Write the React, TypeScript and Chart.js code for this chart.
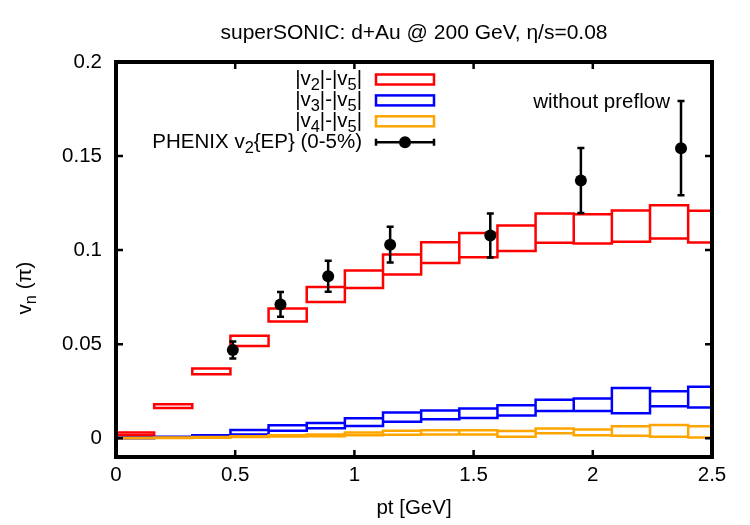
import { useEffect, useRef } from "react";
import { Chart, registerables } from "chart.js";

Chart.register(...registerables);

const FONT = '"Liberation Sans", Arial, Helvetica, sans-serif';
const FS = 20.5;

// pT bins (GeV): lower edges, all of equal width
const binLow = [0, 0.16, 0.32, 0.48, 0.64, 0.8, 0.96, 1.12, 1.28, 1.44, 1.6, 1.76, 1.92, 2.08, 2.24, 2.4];
const binWidth = 0.16;

// |v2|-|v5| band
const v2Low = [0.0015, 0.016, 0.034, 0.049, 0.062, 0.0724, 0.0798, 0.087, 0.0931, 0.0962, 0.0995, 0.1039, 0.1035, 0.1044, 0.1062, 0.1040];
const v2High = [0.003, 0.018, 0.037, 0.0545, 0.069, 0.0804, 0.0891, 0.0976, 0.1042, 0.1091, 0.1131, 0.1194, 0.119, 0.1211, 0.1238, 0.1209];

// |v3|-|v5| band
const v3Low = [0.0, 0.0002, 0.0005, 0.002, 0.0039, 0.0053, 0.0065, 0.0087, 0.0101, 0.0108, 0.012, 0.0145, 0.0145, 0.0133, 0.017, 0.0163];
const v3High = [0.0005, 0.0007, 0.0015, 0.0044, 0.0069, 0.0081, 0.0106, 0.0136, 0.0147, 0.0158, 0.0175, 0.0205, 0.0211, 0.0267, 0.025, 0.0274];

// |v4|-|v5| band
const v4Low = [0.0, 0.0001, 0.0002, 0.0006, 0.0009, 0.001, 0.0016, 0.0018, 0.002, 0.002, 0.0008, 0.0026, 0.0016, 0.0013, 0.0008, 0.0004];
const v4High = [0.0003, 0.0004, 0.0006, 0.001, 0.0015, 0.002, 0.003, 0.0039, 0.0042, 0.0042, 0.0038, 0.0052, 0.0046, 0.0063, 0.007, 0.0064];

// PHENIX v2{EP}, 0-5% central d+Au
const phenixPt = [0.49, 0.69, 0.89, 1.15, 1.57, 1.95, 2.37];
const phenixV2 = [0.0469, 0.0711, 0.0861, 0.1029, 0.1078, 0.137, 0.1542];
const phenixErr = [0.0045, 0.0066, 0.0082, 0.0095, 0.0117, 0.0173, 0.025];

const xTicks = [0, 0.5, 1, 1.5, 2, 2.5];
const yTicks = [0, 0.05, 0.1, 0.15, 0.2];

const RED = "#ff0000";
const BLUE = "#0000ff";
const ORANGE = "#ffa500";

// Closed rectangle outline per bin, separated by gaps
function boxOutlines(lo: number[], hi: number[]) {
  const pts: { x: number; y: number | null }[] = [];
  binLow.forEach((x0, i) => {
    const x1 = x0 + binWidth;
    pts.push(
      { x: x0, y: lo[i] },
      { x: x1, y: lo[i] },
      { x: x1, y: hi[i] },
      { x: x0, y: hi[i] },
      { x: x0, y: lo[i] },
      { x: x0, y: null }
    );
  });
  return pts;
}

function bandDataset(lo: number[], hi: number[], color: string, order: number) {
  return {
    type: "line" as const,
    data: boxOutlines(lo, hi),
    borderColor: color,
    borderWidth: 2.5,
    borderJoinStyle: "miter" as const,
    borderCapStyle: "square" as const,
    pointRadius: 0,
    pointHoverRadius: 0,
    fill: false,
    tension: 0,
    spanGaps: false,
    order,
  };
}

type Seg = { t: string; sub?: boolean };

function segWidth(ctx: CanvasRenderingContext2D, segs: Seg[], size: number) {
  let total = 0;
  for (const s of segs) {
    ctx.font = `${s.sub ? size * 0.8 : size}px ${FONT}`;
    total += ctx.measureText(s.t).width;
  }
  return total;
}

function drawRich(ctx: CanvasRenderingContext2D, segs: Seg[], x: number, y: number, size: number, align: "left" | "right") {
  const total = segWidth(ctx, segs, size);
  let cx = align === "right" ? x - total : x;
  ctx.textAlign = "left";
  ctx.textBaseline = "alphabetic";
  for (const s of segs) {
    ctx.font = `${s.sub ? size * 0.8 : size}px ${FONT}`;
    ctx.fillText(s.t, cx, s.sub ? y + size * 0.25 : y);
    cx += ctx.measureText(s.t).width;
  }
}

const errorBars = {
  id: "errorBars",
  afterDatasetsDraw(chart: any) {
    const { ctx, scales } = chart;
    const xs = scales.x;
    const ys = scales.y;
    ctx.save();
    ctx.strokeStyle = "#000";
    ctx.lineWidth = 2.5;
    phenixPt.forEach((pt, i) => {
      const px = xs.getPixelForValue(pt);
      const top = ys.getPixelForValue(phenixV2[i] + phenixErr[i]);
      const bot = ys.getPixelForValue(phenixV2[i] - phenixErr[i]);
      ctx.beginPath();
      ctx.moveTo(px, top);
      ctx.lineTo(px, bot);
      ctx.moveTo(px - 3.5, top);
      ctx.lineTo(px + 3.5, top);
      ctx.moveTo(px - 3.5, bot);
      ctx.lineTo(px + 3.5, bot);
      ctx.stroke();
    });
    ctx.restore();
  },
};

const frameAndDecor = {
  id: "frameAndDecor",
  afterDraw(chart: any) {
    const { ctx, chartArea, scales } = chart;
    const { left, right, top, bottom } = chartArea;
    const xs = scales.x;
    const ys = scales.y;
    ctx.save();

    // border
    ctx.strokeStyle = "#000";
    ctx.lineWidth = 4;
    ctx.strokeRect(left, top, right - left, bottom - top);

    // inward ticks on all four sides
    ctx.lineWidth = 2.5;
    const tl = 7;
    ctx.beginPath();
    xTicks.forEach((v) => {
      const px = xs.getPixelForValue(v);
      ctx.moveTo(px, bottom);
      ctx.lineTo(px, bottom - tl);
      ctx.moveTo(px, top);
      ctx.lineTo(px, top + tl);
    });
    yTicks.forEach((v) => {
      const py = ys.getPixelForValue(v);
      ctx.moveTo(left, py);
      ctx.lineTo(left + tl, py);
      ctx.moveTo(right, py);
      ctx.lineTo(right - tl, py);
    });
    ctx.stroke();

    ctx.fillStyle = "#000";

    // y-axis title with subscript, rotated
    ctx.save();
    ctx.translate(31, 288);
    ctx.rotate(-Math.PI / 2);
    const ySegs: Seg[] = [{ t: "v" }, { t: "n", sub: true }, { t: " (π)" }];
    const w = segWidth(ctx, ySegs, FS);
    drawRich(ctx, ySegs, -w / 2, 0, FS, "left");
    ctx.restore();

    // annotation
    ctx.font = `${FS}px ${FONT}`;
    ctx.textAlign = "left";
    ctx.textBaseline = "alphabetic";
    ctx.fillText("without preflow", xs.getPixelForValue(1.75), ys.getPixelForValue(0.1755));

    // legend
    const textRight = 362;
    const sx0 = 376;
    const sx1 = 434;
    const rows = [79.5, 100.4, 121.3, 142.2];
    const entries: { segs: Seg[]; color: string }[] = [
      { segs: [{ t: "|v" }, { t: "2", sub: true }, { t: "|-|v" }, { t: "5", sub: true }, { t: "|" }], color: RED },
      { segs: [{ t: "|v" }, { t: "3", sub: true }, { t: "|-|v" }, { t: "5", sub: true }, { t: "|" }], color: BLUE },
      { segs: [{ t: "|v" }, { t: "4", sub: true }, { t: "|-|v" }, { t: "5", sub: true }, { t: "|" }], color: ORANGE },
    ];
    entries.forEach((e, i) => {
      const ry = rows[i];
      ctx.fillStyle = "#000";
      drawRich(ctx, e.segs, textRight, ry + 5.5, FS, "right");
      ctx.strokeStyle = e.color;
      ctx.lineWidth = 2.5;
      ctx.strokeRect(sx0, ry - 5, sx1 - sx0, 10);
    });
    const ry = rows[3];
    ctx.fillStyle = "#000";
    drawRich(
      ctx,
      [{ t: "PHENIX v" }, { t: "2", sub: true }, { t: "{EP} (0-5%)" }],
      textRight,
      ry + 5.5,
      FS,
      "right"
    );
    ctx.strokeStyle = "#000";
    ctx.lineWidth = 2.5;
    ctx.beginPath();
    ctx.moveTo(sx0, ry);
    ctx.lineTo(sx1, ry);
    ctx.moveTo(sx0, ry - 3.5);
    ctx.lineTo(sx0, ry + 3.5);
    ctx.moveTo(sx1, ry - 3.5);
    ctx.lineTo(sx1, ry + 3.5);
    ctx.stroke();
    ctx.beginPath();
    ctx.arc((sx0 + sx1) / 2, ry, 6, 0, Math.PI * 2);
    ctx.fill();

    ctx.restore();
  },
};

export default function App() {
  const canvasRef = useRef<HTMLCanvasElement | null>(null);

  useEffect(() => {
    const canvas = canvasRef.current;
    if (!canvas) return;
    const tickFont = { family: FONT, size: FS };
    const chart = new Chart(canvas, {
      type: "scatter",
      data: {
        datasets: [
          {
            type: "scatter",
            data: phenixPt.map((x, i) => ({ x, y: phenixV2[i] })),
            pointRadius: 6,
            pointHoverRadius: 6,
            pointBackgroundColor: "#000",
            pointBorderWidth: 0,
            borderColor: "#000",
            order: 1,
          } as any,
          bandDataset(v4Low, v4High, ORANGE, 2) as any,
          bandDataset(v3Low, v3High, BLUE, 3) as any,
          bandDataset(v2Low, v2High, RED, 4) as any,
        ],
      },
      options: {
        animation: false,
        responsive: false,
        events: [],
        layout: { padding: { top: 0, left: 0, right: 38, bottom: 0 } },
        plugins: {
          legend: { display: false },
          tooltip: { enabled: false },
          title: {
            display: true,
            text: "superSONIC: d+Au @ 200 GeV, η/s=0.08",
            color: "#000",
            font: { family: FONT, size: 21, weight: "normal" },
            padding: { top: 21, bottom: 15.8 },
            fullSize: false,
          },
        },
        scales: {
          x: {
            type: "linear",
            min: 0,
            max: 2.5,
            afterBuildTicks: (s: any) => {
              s.ticks = xTicks.map((v) => ({ value: v }));
            },
            afterFit: (s: any) => {
              s.height = 68;
            },
            grid: { display: false, drawTicks: false },
            border: { display: false },
            ticks: {
              font: tickFont,
              color: "#000",
              padding: 6,
              maxRotation: 0,
              autoSkip: false,
              callback: (v: any) => String(v),
            },
            title: {
              display: true,
              text: "pt [GeV]",
              color: "#000",
              font: tickFont,
              padding: { top: 0, bottom: 4.5 },
            },
          },
          y: {
            type: "linear",
            min: -0.01,
            max: 0.2,
            afterBuildTicks: (s: any) => {
              s.ticks = yTicks.map((v) => ({ value: v }));
            },
            afterFit: (s: any) => {
              s.width = 116;
            },
            grid: { display: false, drawTicks: false },
            border: { display: false },
            ticks: {
              font: tickFont,
              color: "#000",
              padding: 14,
              autoSkip: false,
              callback: (v: any) => String(v),
            },
          },
        },
      } as any,
      plugins: [errorBars, frameAndDecor],
    });
    return () => chart.destroy();
  }, []);

  return (
    <div style={{ position: "absolute", left: 0, top: 0, width: 750, height: 525, background: "#fff" }}>
      <canvas ref={canvasRef} width={750} height={525} style={{ width: 750, height: 525 }} />
    </div>
  );
}
